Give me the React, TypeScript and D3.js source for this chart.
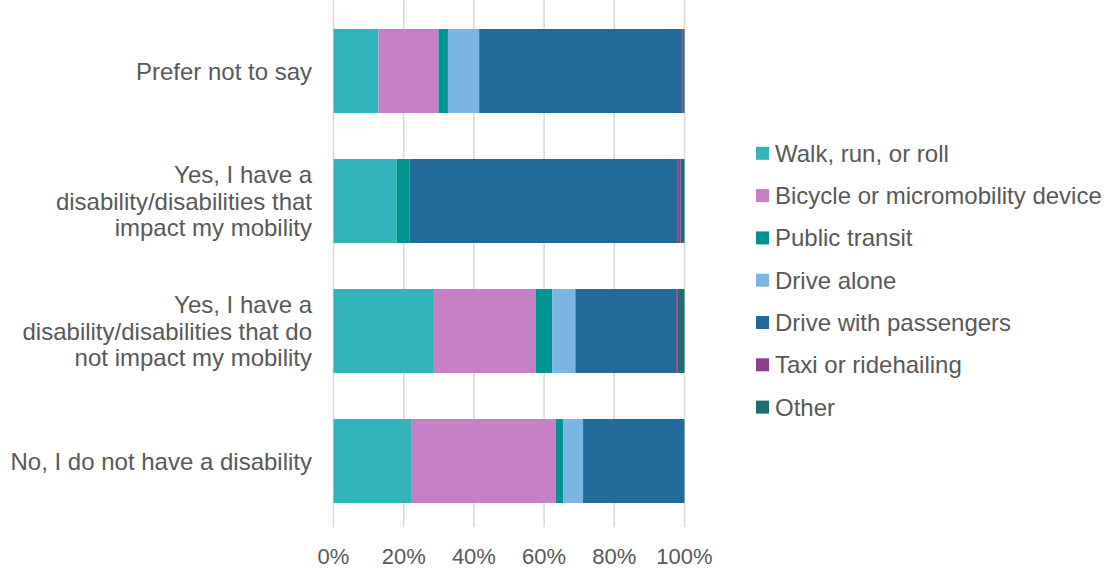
import React from "react";
import * as d3 from "d3";

const categories = [
  ["Prefer not to say"],
  ["Yes, I have a", "disability/disabilities that", "impact my mobility"],
  ["Yes, I have a", "disability/disabilities that do", "not impact my mobility"],
  ["No, I do not have a disability"],
];
const seriesNames = [
  "Walk, run, or roll",
  "Bicycle or micromobility device",
  "Public transit",
  "Drive alone",
  "Drive with passengers",
  "Taxi or ridehailing",
  "Other",
];
const seriesColors = ["#31B5BB", "#C681C6", "#009490", "#7BB5E1", "#226A97", "#8E3E8F", "#1D6E6E"];
// values per category for each series, in percent
const walk = [12.8, 18.0, 28.6, 22.1];
const bicycle = [17.1, 0, 29.0, 41.2];
const transit = [2.7, 3.6, 4.7, 2.1];
const driveAlone = [8.9, 0, 6.6, 5.7];
const drivePassengers = [57.5, 76.5, 28.7, 28.5];
const taxi = [0.5, 0.8, 0.5, 0];
const other = [0.5, 1.1, 1.9, 0.4];
const tickValues = [0, 20, 40, 60, 80, 100];

const series = [walk, bicycle, transit, driveAlone, drivePassengers, taxi, other];

export default function App() {
  const W = 1105, H = 569;
  const x = d3.scaleLinear().domain([0, 100]).range([333.5, 684.5]);
  const y = d3.scaleBand<number>().domain([0, 1, 2, 3]).range([6, 526]).paddingInner(0.354).paddingOuter(0.177);
  const txt = "#595959";
  const font = "'Liberation Sans', Arial, sans-serif";

  const segs: any[] = [];
  categories.forEach((_, ci) => {
    let acc = 0;
    series.forEach((s, si) => {
      const v = s[ci];
      if (v > 0) {
        segs.push({ ci, si, x0: acc, x1: acc + v });
      }
      acc += v;
    });
  });

  return (
    <svg width={W} height={H} style={{ position: "absolute", left: 0, top: 0 }} fontFamily={font}>
      <rect width={W} height={H} fill="#fff" />
      {tickValues.map((t) => (
        <line key={t} x1={x(t)} x2={x(t)} y1={0} y2={527} stroke="#d9d9d9" strokeWidth={1.5} />
      ))}
      {segs.map((s, i) => (
        <rect key={i} x={x(s.x0)} width={x(s.x1) - x(s.x0)} y={y(s.ci)} height={y.bandwidth()} fill={seriesColors[s.si]} />
      ))}
      {tickValues.map((t) => (
        <text key={t} x={x(t)} y={564} textAnchor="middle" fontSize={22} fill={txt}>{t}%</text>
      ))}
      {categories.map((lines, ci) => {
        const cy = (y(ci) as number) + y.bandwidth() / 2;
        const lh = 26.5;
        const start = cy - ((lines.length - 1) * lh) / 2;
        return (
          <text key={ci} textAnchor="end" fontSize={24} fill={txt}>
            {lines.map((l, li) => (
              <tspan key={li} x={312} y={start + li * lh + 8.5}>{l}</tspan>
            ))}
          </text>
        );
      })}
      {seriesNames.map((n, i) => {
        const ly = 153.3 + i * 42.3;
        return (
          <g key={n}>
            <rect x={756} y={ly - 6.5} width={13} height={13} fill={seriesColors[i]} />
            <text x={775} y={ly + 8.5} fontSize={24} fill={txt}>{n}</text>
          </g>
        );
      })}
    </svg>
  );
}
